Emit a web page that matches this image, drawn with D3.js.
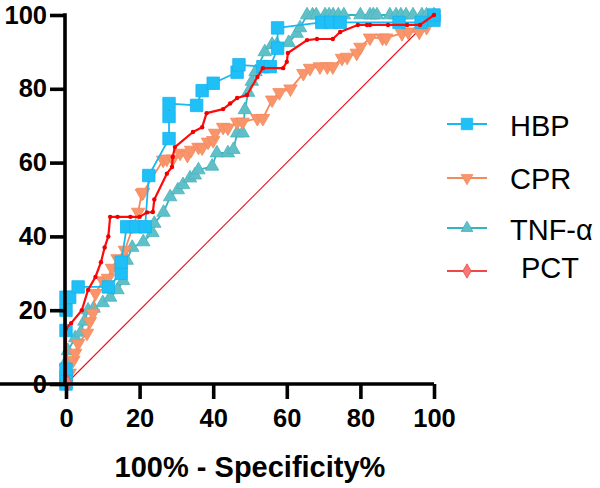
<!DOCTYPE html>
<html><head><meta charset="utf-8">
<script src="https://cdn.jsdelivr.net/npm/d3@7"></script>
<style>body{margin:0;background:#fff}svg{display:block}</style>
</head><body>
<svg id="c" width="600" height="488"></svg>
<script>
const xTicks = [0, 20, 40, 60, 80, 100];
const yTicks = [0, 20, 40, 60, 80, 100];
const seriesNames = ["HBP", "CPR", "TNF-α", "PCT"];

const hbpX = [0,0,0,0,0,0,1,3.3,11.5,15,15,16.5,19,21.5,22.5,28,28,28,35.5,37,40,46.5,47,53.5,55.5,57.5,57.5,69.5,72,74.5,90.5,96.5,100,100];
const hbpY = [0,2,4,14.5,20,23.5,23.5,26.3,26.3,30,33,42.6,42.6,42.6,56.5,66.5,72.5,76,75.5,79.5,81.5,84.5,86.5,86,86,91,96.5,98,98,98,98,98,98.6,100];

const cprX = [0,1,2,2.5,3.3,5.7,6.5,7.3,8,10,11.4,12.5,14,16,19.6,20.6,21,26.4,27.4,29,31,33,34,36,37,38.6,40,40.5,42.7,44,46.5,48,52,53.5,56,58,61,64.5,66.3,69,71,72.5,75,76.4,79,80,82.6,86,87,91.3,93,96,98,100];
const cprY = [0,3,6.5,8.4,11,13.8,17,19.2,24.6,28,28.7,31.4,34,36.3,46.6,51.7,52,60.7,61,61,62.6,62,63.4,64.2,64,65.6,66,68,69.6,69.4,71,71,72,72,77,79,80,84.2,85.6,86,86,86,88.3,88.6,89.7,91.3,93.8,93.8,93.8,95,95.4,95.4,96.7,100];

const tnfX = [0,0,0,0.5,2.5,4,5,6,7.5,10,12,14,15.5,16.5,18,21,23.5,24,26.5,28.3,30.4,31.8,33.7,35,36,39.7,41,44,45.5,46.5,48,48.6,49.5,50.5,51.5,54,56,57.3,60.5,62.7,63.6,65.5,67,68,70.4,71.5,72.6,74,75.5,80,82.6,83.5,84.5,88,89.7,91,92.4,94.3,96.7,98,100];
const tnfY = [0,3,6,9,12.5,14,17,20,20.5,22,23.5,25.5,28,33.5,37,38.5,41,43.5,46.5,50.7,52.6,54,55.8,56.6,58,59,62.6,62.6,63.5,68,68,74.3,79,82,84.6,90,92,92,92.5,95,96.5,100,100,100,100,100,100,100,100,100,100,100,100,100,100,100,100,100,100,100,100];

const pctX = [0,0,1.4,4.3,6,8,9.5,10.5,11.5,12,14,17.5,20,22,23.6,24,27.4,28.8,29,29.6,34.5,37,38.2,42.7,44.6,46.5,49.2,52,53.5,59,60,60.3,65.5,68.2,72.5,74.5,79.3,81.8,82.6,87.5,92.7,96.2,100];
const pctY = [0,15,16.5,20,25.5,29,33,37,40,45.3,45.3,45.3,45.3,46.5,46.6,50,57,58.8,61.5,64.2,68.3,69.6,73.4,74.5,76,77.5,78.3,83.2,85.6,85.6,87.3,89.7,93.2,93.5,93.5,95.4,97.3,97.3,97.3,97.3,97.3,97.3,100];

const svg = d3.select("#c");
const x = d3.scaleLinear().domain([0, 100]).range([66, 434]);
const y = d3.scaleLinear().domain([0, 100]).range([384, 15]);

const zip = (a, b) => a.map((v, i) => [v, b[i]]);
const line = d3.line().x(d => x(d[0])).y(d => y(d[1]));

// diagonal reference
svg.append("path").datum([[0,0],[100,100]]).attr("d", line)
  .attr("fill", "none").attr("stroke", "#E8101C").attr("stroke-width", 1.1);

function drawSeries(data, lineColor, lw, sym, size, fill, stroke, rot) {
  const g = svg.append("g");
  g.append("path").datum(data).attr("d", line).attr("fill", "none")
    .attr("stroke", lineColor).attr("stroke-width", lw).attr("stroke-linejoin", "round");
  if (sym) {
    g.selectAll("path.m").data(data).join("path").attr("class", "m")
      .attr("d", d3.symbol().type(sym).size(size))
      .attr("transform", d => `translate(${x(d[0])},${y(d[1])}) rotate(${rot || 0})`)
      .attr("fill", fill).attr("stroke", stroke).attr("stroke-width", 0.8);
  }
  return g;
}

drawSeries(zip(tnfX, tnfY), "#35B4C3", 1.8, d3.symbolTriangle, 78, "#5FC0C8", "#4AB3BE", 0);
drawSeries(zip(cprX, cprY), "#F28A5C", 1.8, d3.symbolTriangle, 78, "#F9946B", "#F28A5C", 180);
drawSeries(zip(hbpX, hbpY), "#18B8F0", 1.8, d3.symbolSquare, 155, "#1EC0F7", "#17B2EC", 0);
const pg = drawSeries(zip(pctX, pctY), "#FF0A0A", 2.2, null);
pg.selectAll("circle").data(zip(pctX, pctY).slice(1)).join("circle")
  .attr("cx", d => x(d[0])).attr("cy", d => y(d[1])).attr("r", 2.2).attr("fill", "#F00000");
svg.append("path").attr("d", d3.symbol().type(d3.symbolDiamond).size(60))
  .attr("transform", `translate(${x(0)+2},${y(0)-1}) rotate(0)`)
  .attr("fill", "#F87878").attr("stroke", "#F05050").attr("stroke-width", 0.8);

// axes
const font = "'Liberation Sans', Arial, sans-serif";
const xa = svg.append("g").attr("transform", "translate(0,384)")
  .call(d3.axisBottom(x).tickValues(xTicks).tickSize(15).tickSizeOuter(0).tickPadding(10));
const ya = svg.append("g").attr("transform", "translate(65,0)")
  .call(d3.axisLeft(y).tickValues(yTicks).tickSize(15).tickSizeOuter(0).tickPadding(3));
[xa, ya].forEach(a => {
  a.select(".domain").attr("stroke", "#000").attr("stroke-width", 3.6);
  a.selectAll(".tick line").attr("stroke", "#000").attr("stroke-width", 3.6);
  a.selectAll(".tick text").attr("fill", "#000").attr("font-family", font)
    .attr("font-weight", "bold").attr("font-size", 25.5);
});
xa.select(".domain").attr("d", "M-1,0H434");
ya.select(".domain").attr("d", "M0,13.2V386");

svg.append("text").attr("x", 250).attr("y", 477).attr("text-anchor", "middle")
  .attr("font-family", font).attr("font-weight", "bold").attr("font-size", 29)
  .text("100% - Specificity%");

// legend
const legY = [124, 178, 228, 271];
const legText = [136, 189, 240, 278];
const legX = [510, 510, 510, 521];
const legLine = ["#18B8F0", "#F28A5C", "#35B4C3", "#F04848"];
const legFill = ["#1EC0F7", "#F9946B", "#5FC0C8", "#F87878"];
const legSym = [d3.symbolSquare, d3.symbolTriangle, d3.symbolTriangle, d3.symbolDiamond];
const legRot = [0, 180, 0, 0];
const legSize = [130, 60, 60, 60];
seriesNames.forEach((n, i) => {
  svg.append("line").attr("x1", 447).attr("x2", 487).attr("y1", legY[i]).attr("y2", legY[i])
    .attr("stroke", legLine[i]).attr("stroke-width", 1.8);
  svg.append("path").attr("d", d3.symbol().type(legSym[i]).size(legSize[i]))
    .attr("transform", `translate(467,${legY[i]}) rotate(${legRot[i]})`)
    .attr("fill", legFill[i]).attr("stroke", legLine[i]).attr("stroke-width", 0.8);
  svg.append("text").attr("x", legX[i]).attr("y", legText[i])
    .attr("font-family", font).attr("font-size", 29).attr("fill", "#000").text(n);
});
</script>
</body></html>
